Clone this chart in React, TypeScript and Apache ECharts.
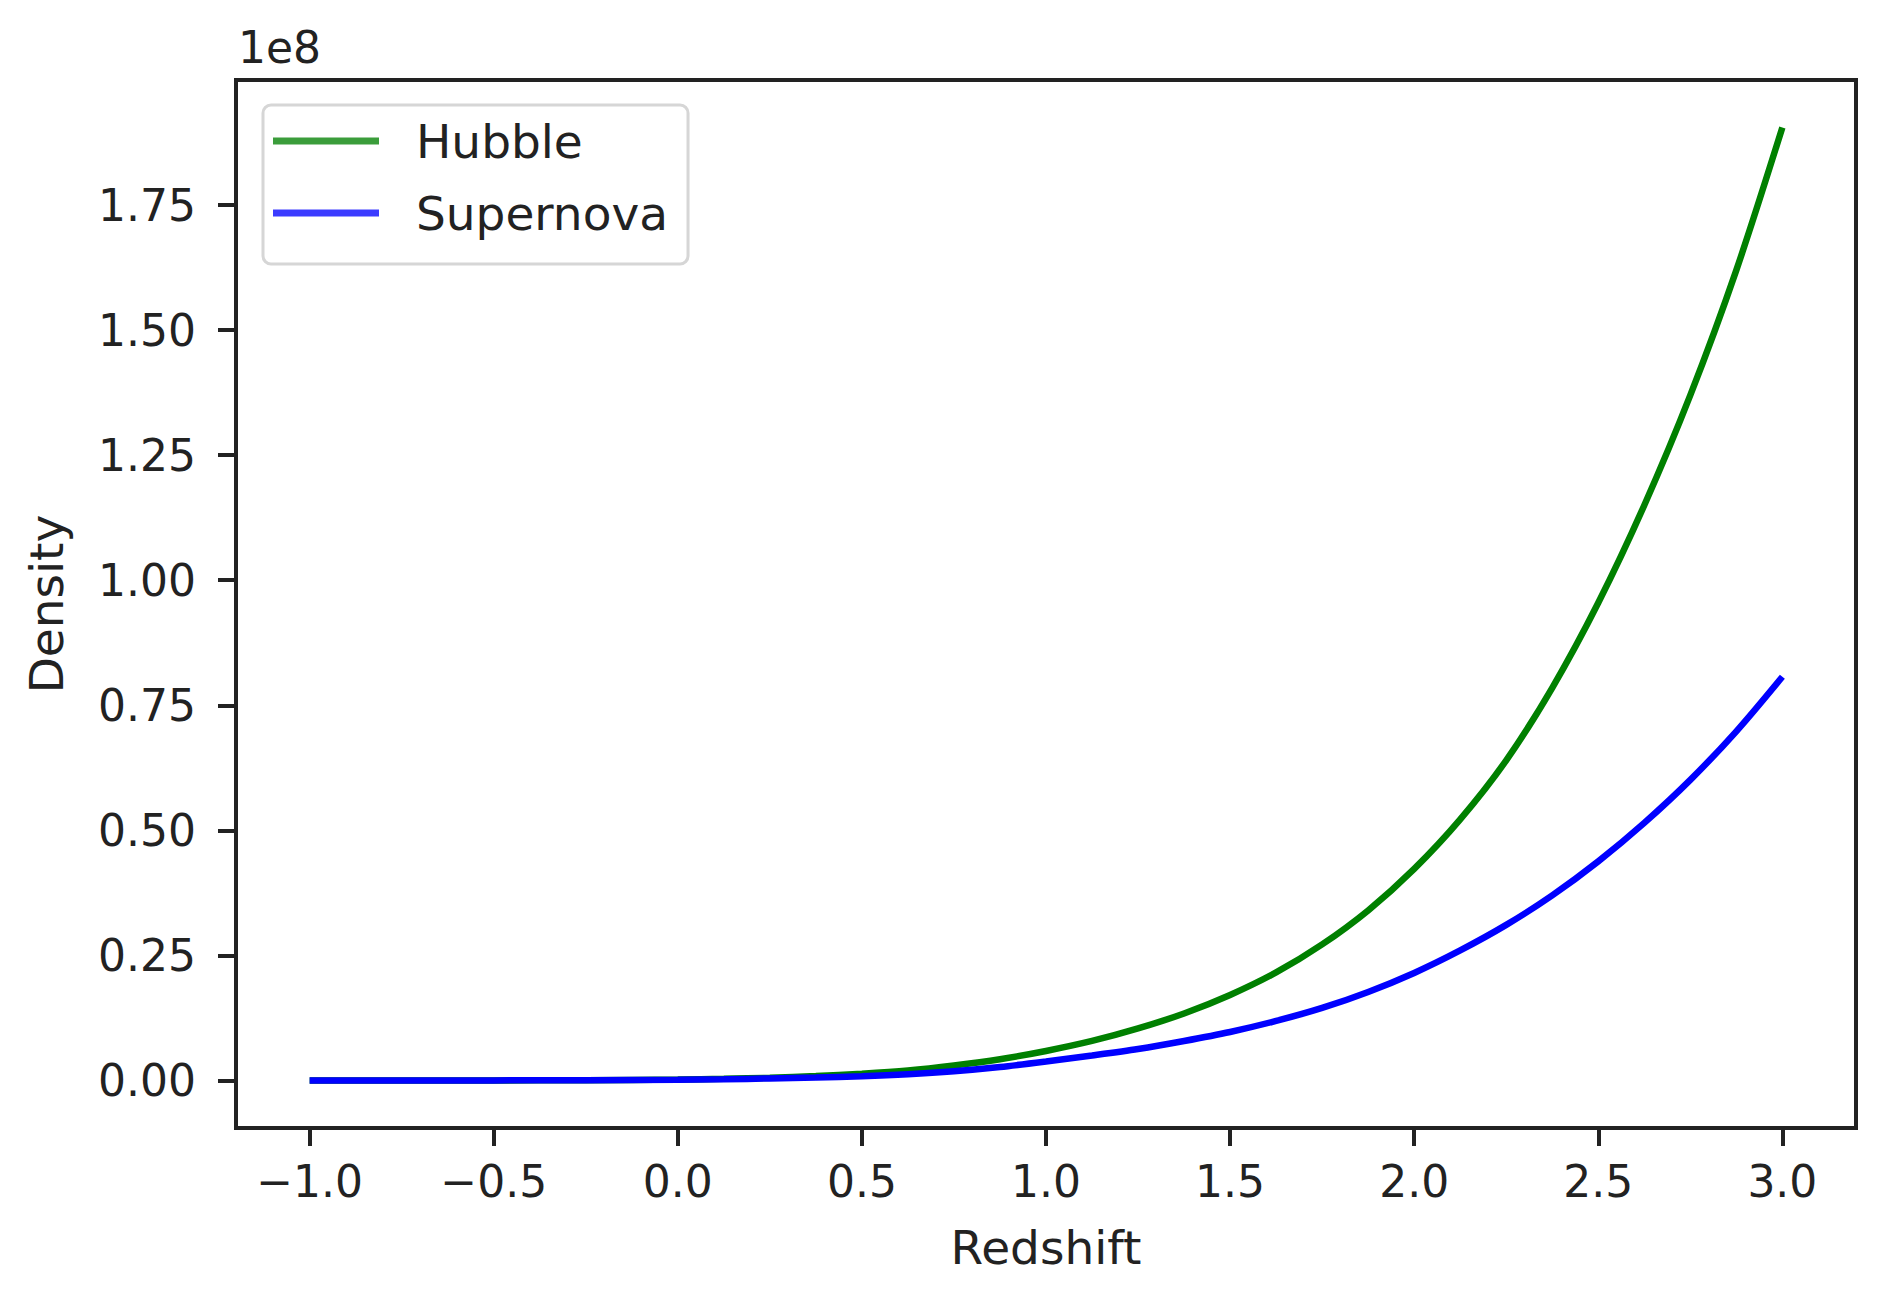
import React, { useEffect, useRef } from "react";
import * as echarts from "echarts";

// Redshift samples (x) and densities in units of 1e8
const redshift = [
  -1.0, -0.75, -0.5, -0.25, 0.0, 0.125, 0.25, 0.375, 0.5, 0.625, 0.75, 0.875, 1.0, 1.125, 1.25, 1.375, 1.5, 1.625,
  1.75, 1.875, 2.0, 2.125, 2.25, 2.375, 2.5, 2.625, 2.75, 2.875, 3.0,
];
const hubble = [
  0, 0.00002, 0.0001, 0.0005, 0.0019, 0.0033, 0.0055, 0.0088, 0.0135, 0.02, 0.03, 0.0425, 0.059, 0.079, 0.104, 0.134,
  0.171, 0.216, 0.272, 0.34, 0.423, 0.522, 0.64, 0.785, 0.955, 1.15, 1.37, 1.62, 1.905,
];
const supernova = [
  0, 0.00003, 0.0002, 0.0007, 0.0015, 0.0025, 0.004, 0.006, 0.0085, 0.0125, 0.0185, 0.027, 0.038, 0.05, 0.063, 0.079,
  0.097, 0.119, 0.145, 0.177, 0.215, 0.26, 0.311, 0.37, 0.438, 0.515, 0.601, 0.698, 0.807,
];

const xTicks = [-1.0, -0.5, 0.0, 0.5, 1.0, 1.5, 2.0, 2.5, 3.0];
const yTicks = [0, 0.25, 0.5, 0.75, 1.0, 1.25, 1.5, 1.75];

const seriesNames = ["Hubble", "Supernova"];
const seriesColors = ["#008000", "#0000ff"];
const legendColors = ["rgba(0,128,0,0.77)", "rgba(0,0,255,0.77)"];

const FONT = "DejaVu Sans";
const INK = "#222222";

export default function App() {
  const ref = useRef<HTMLDivElement>(null);
  useEffect(() => {
    if (!ref.current) return;
    const chart = echarts.init(ref.current, undefined, { renderer: "svg" });
    const pairs = (ys: number[]) => redshift.map((x, i) => [x, ys[i]]);
    const fmtMinus = (s: string) => s.replace("-", "\u2212");
    chart.setOption({
      animation: false,
      backgroundColor: "#ffffff",
      textStyle: { fontFamily: FONT },
      grid: {
        left: 236,
        top: 80,
        width: 1620,
        height: 1048,
        show: true,
        borderColor: INK,
        borderWidth: 4,
        backgroundColor: "transparent",
      },
      xAxis: {
        type: "value",
        min: -1.2,
        max: 3.2,
        name: "Redshift",
        nameLocation: "middle",
        nameGap: 96,
        nameTextStyle: { fontSize: 47, color: INK, fontFamily: FONT },
        axisLine: { show: true, onZero: false, lineStyle: { color: INK, width: 4 } },
        axisTick: { show: true, customValues: xTicks, length: 18, lineStyle: { color: INK, width: 4 } },
        axisLabel: {
          customValues: xTicks,
          formatter: (v: number) => fmtMinus(v.toFixed(1)),
          fontSize: 44,
          color: INK,
          fontFamily: FONT,
          margin: 31,
        },
        splitLine: { show: false },
      },
      yAxis: {
        type: "value",
        min: -0.095,
        max: 2.0,
        name: "Density",
        nameLocation: "middle",
        nameRotate: 90,
        nameGap: 166,
        nameTextStyle: { fontSize: 47, color: INK, fontFamily: FONT },
        axisLine: { show: true, onZero: false, lineStyle: { color: INK, width: 4 } },
        axisTick: { show: true, customValues: yTicks, length: 18, lineStyle: { color: INK, width: 4 } },
        axisLabel: {
          customValues: yTicks,
          formatter: (v: number) => fmtMinus(v.toFixed(2)),
          fontSize: 44,
          color: INK,
          fontFamily: FONT,
          margin: 40,
        },
        splitLine: { show: false },
      },
      legend: {
        orient: "vertical",
        left: 263,
        top: 105,
        padding: [11, 20, 26, 10],
        itemGap: 22,
        itemWidth: 106,
        itemHeight: 7,
        icon: "rect",
        backgroundColor: "rgba(255,255,255,0.8)",
        borderColor: "#d6d6d6",
        borderWidth: 3,
        borderRadius: 8,
        textStyle: { fontSize: 47, color: INK, fontFamily: FONT, lineHeight: 50, padding: [0, 0, 0, 32] },
        data: seriesNames.map((n, i) => ({ name: n, itemStyle: { color: legendColors[i] } })),
      },
      graphic: [
        {
          type: "text",
          left: 238,
          top: 25,
          style: { text: "1e8", fontSize: 44, fill: INK, fontFamily: FONT },
        },
      ],
      series: [
        {
          name: seriesNames[0],
          type: "line",
          data: pairs(hubble),
          showSymbol: false,
          smooth: 0.3,
          color: seriesColors[0],
          lineStyle: { color: seriesColors[0], width: 6.5 },
          z: 2,
        },
        {
          name: seriesNames[1],
          type: "line",
          data: pairs(supernova),
          showSymbol: false,
          smooth: 0.3,
          color: seriesColors[1],
          lineStyle: { color: seriesColors[1], width: 6.5 },
          z: 3,
        },
      ],
    });
    return () => chart.dispose();
  }, []);
  return (
    <div
      ref={ref}
      style={{ position: "absolute", left: 0, top: 0, width: 1892, height: 1293, background: "#fff" }}
    />
  );
}
